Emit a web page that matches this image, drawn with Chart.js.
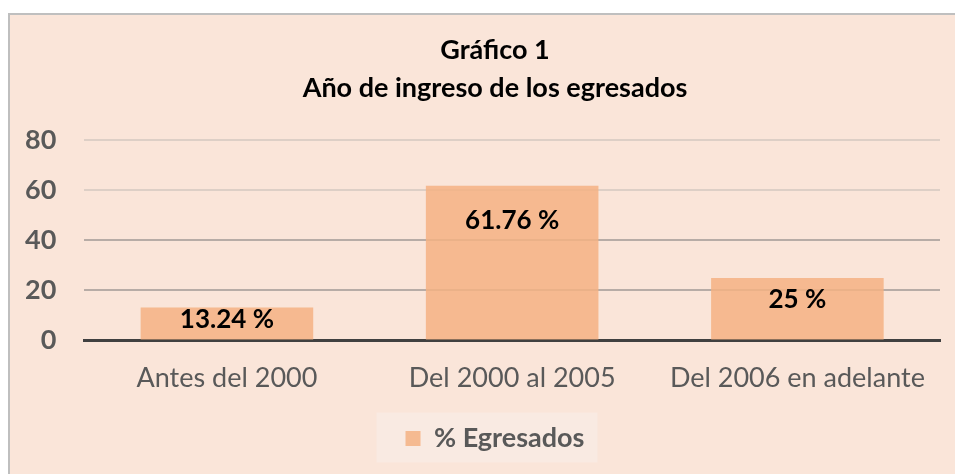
<!DOCTYPE html>
<html>
<head>
<meta charset="utf-8">
<script src="https://cdn.jsdelivr.net/npm/chart.js@4"></script>
<style>
  html, body { margin: 0; padding: 0; background: #fff; overflow: hidden; }
  #frame {
    position: absolute; left: 8px; top: 13px; width: 990px; height: 480px;
    background: #fae5d9; border-left: 2px solid #bfbfbf; border-top: 2px solid #bfbfbf;
  }
  #wrap { position: absolute; left: 0; top: 0; width: 990px; height: 474px; }
</style>
</head>
<body>
<div id="frame"></div>
<div id="wrap"><canvas id="chart"></canvas></div>
<script>
// datos del gráfico
const categorias = ['Antes del 2000', 'Del 2000 al 2005', 'Del 2006 en adelante'];
const egresados = [13.24, 61.76, 25];
const serieNombre = '% Egresados';
const yTicks = [0, 20, 40, 60, 80];

const FONT = "Lato, 'Open Sans', sans-serif";

// fondo del recuadro de leyenda
const legendBox = {
  id: 'legendBox',
  beforeDraw(chart) {
    const lg = chart.legend;
    if (!lg || !lg.legendHitBoxes.length) return;
    const hb = lg.legendHitBoxes[0];
    const ctx = chart.ctx;
    ctx.save();
    ctx.fillStyle = '#f9eae2';
    ctx.fillRect(hb.left - 29, hb.top + hb.height / 2 - 26, hb.width + 42, 50);
    ctx.restore();
  }
};

// etiquetas de valor dentro de las barras
const valueLabels = {
  id: 'valueLabels',
  afterDatasetsDraw(chart, args, opts) {
    const ctx = chart.ctx;
    const meta = chart.getDatasetMeta(0);
    ctx.save();
    ctx.font = 'bold 26px ' + FONT;
    ctx.fillStyle = '#000';
    ctx.textAlign = 'center';
    ctx.textBaseline = 'middle';
    meta.data.forEach((bar, i) => {
      const v = chart.data.datasets[0].data[i];
      ctx.fillText(v + ' %', bar.x, bar.y + opts.offsets[i]);
    });
    ctx.restore();
  }
};

new Chart(document.getElementById('chart'), {
  type: 'bar',
  data: {
    labels: categorias,
    datasets: [{
      label: serieNombre,
      data: egresados,
      backgroundColor: 'rgba(244,177,131,0.85)',
      barPercentage: 0.605,
      categoryPercentage: 1
    }]
  },
  options: {
    responsive: true,
    maintainAspectRatio: false,
    animation: false,
    layout: { padding: { left: 0, right: 0, top: 31, bottom: 12 } },
    scales: {
      x: {
        grid: { display: false, drawTicks: false },
        border: { display: true, color: '#404040', width: 3 },
        ticks: { color: '#595959', font: { family: FONT, size: 27 }, padding: 21, maxRotation: 0 }
      },
      y: {
        min: 0, max: 80,
        afterBuildTicks(axis) { axis.ticks = yTicks.map(v => ({ value: v })); },
        afterFit(axis) { axis.width -= 3; },
        grid: {
          drawTicks: false,
          color: ctx => ctx.tick.value === 0 ? 'rgba(0,0,0,0)' : (ctx.tick.value >= 60 ? '#ddcfc6' : '#b7aca6'),
          lineWidth: 2
        },
        border: { display: false },
        ticks: { color: '#595959', font: { family: FONT, size: 27, weight: 'bold' }, padding: 28 }
      },
      // eje vacío a la derecha: deja el margen del marco original
      y2: {
        position: 'right',
        min: 0, max: 80,
        grid: { display: false, drawTicks: false },
        border: { display: false },
        ticks: { display: false },
        afterFit(axis) { axis.width = 50; }
      }
    },
    plugins: {
      title: {
        display: true,
        text: ['Gráfico 1', 'Año de ingreso de los egresados'],
        color: '#000',
        font: { family: FONT, size: 27, weight: 'bold', lineHeight: 1.41 },
        padding: { top: 0, bottom: 33 }
      },
      legend: {
        position: 'bottom',
        labels: {
          color: '#595959',
          font: { family: FONT, size: 27, weight: 'bold' },
          boxWidth: 15, boxHeight: 15,
          padding: 10
        }
      },
      tooltip: { enabled: false },
      valueLabels: { offsets: [12, 35, 22] }
    }
  },
  plugins: [legendBox, valueLabels]
});
</script>
</body>
</html>
